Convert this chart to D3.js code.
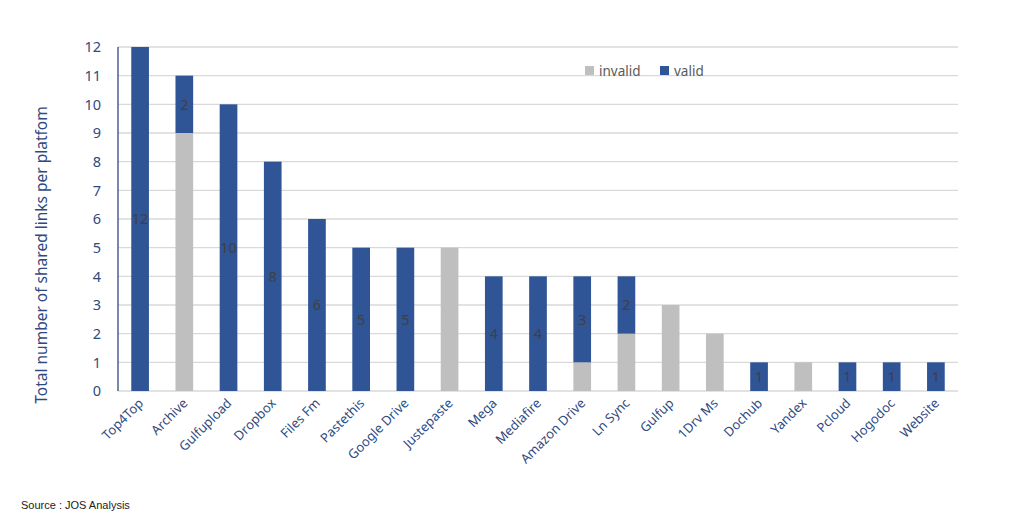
<!DOCTYPE html>
<html><head><meta charset="utf-8">
<script src="https://cdn.jsdelivr.net/npm/d3@7"></script>
<style>body{margin:0;background:#fff;}svg{display:block;}</style>
</head><body>
<svg id="c" width="1024" height="520"></svg>
<script>
const categories = ["Top4Top","Archive","Gulfupload","Dropbox","Files Fm","Pastethis","Google Drive","Justepaste","Mega","Mediafire","Amazon Drive","Ln Sync","Gulfup","1Drv Ms","Dochub","Yandex","Pcloud","Hogodoc","Website"];
const invalid = [0,9,0,0,0,0,0,5,0,0,1,2,3,2,0,1,0,0,0];
const valid   = [12,2,10,8,6,5,5,0,4,4,3,2,0,0,1,0,1,1,1];
const yTicks = [0,1,2,3,4,5,6,7,8,9,10,11,12];
const seriesNames = ["invalid","valid"];

const svg = d3.select("#c");
const font = "'Noto Sans', 'Open Sans', sans-serif";
const axisColor = "#2F4A7F";
const colors = {invalid:"#BFBFBF", valid:"#2F5597"};

const x = d3.scaleBand().domain(categories).range([118, 958]).paddingInner(0.6).paddingOuter(0.3);
const y = d3.scaleLinear().domain([0,12]).range([391, 47]);

// gridlines
svg.append("g").selectAll("line").data(yTicks).join("line")
  .attr("x1", 118).attr("x2", 958)
  .attr("y1", d=>y(d)).attr("y2", d=>y(d))
  .attr("stroke", "#D9D9D9").attr("stroke-width", 1.3);

const data = categories.map((c,i)=>({c, invalid:invalid[i], valid:valid[i]}));
const stack = d3.stack().keys(seriesNames)(data);

svg.append("g").selectAll("g").data(stack).join("g")
  .attr("fill", d=>colors[d.key])
  .selectAll("rect").data(d=>d).join("rect")
  .attr("x", d=>x(d.data.c)).attr("width", x.bandwidth())
  .attr("y", d=>y(d[1])).attr("height", d=>y(d[0])-y(d[1]));

// data labels on valid
const vs = stack[1];
svg.append("g").selectAll("text").data(vs.filter(d=>d.data.valid>0)).join("text")
  .attr("x", d=>x(d.data.c)+x.bandwidth()/2)
  .attr("y", d=>(y(d[0])+y(d[1]))/2)
  .attr("dy", "0.36em")
  .attr("text-anchor","middle")
  .attr("font-family", font).attr("font-size", 14.5)
  .attr("fill","#404040")
  .text(d=>d.data.valid);

// y axis line
svg.append("line").attr("x1",118).attr("x2",118).attr("y1",y(12)).attr("y2",y(0))
  .attr("stroke", axisColor).attr("stroke-width",1.3);

// y tick labels
svg.append("g").selectAll("text").data(yTicks).join("text")
  .attr("x", 101).attr("y", d=>y(d)).attr("dy","0.36em")
  .attr("text-anchor","end")
  .attr("font-family", font).attr("font-size", 14.5)
  .attr("fill", axisColor).text(d=>d);

// x labels
svg.append("g").selectAll("text").data(categories).join("text")
  .attr("transform", d=>`translate(${x(d)+x.bandwidth()/2+4},${404}) rotate(-45)`)
  .attr("text-anchor","end")
  .attr("font-family", font).attr("font-size", 13)
  .attr("fill", axisColor).text(d=>d);

// y title
svg.append("text")
  .attr("transform", `translate(47,255) rotate(-90)`)
  .attr("text-anchor","middle")
  .attr("font-family", font).attr("font-size", 15.5)
  .attr("fill", axisColor)
  .text("Total number of shared links per platfom");

// legend
const lg = svg.append("g").attr("font-family", font).attr("font-size", 13.5).attr("fill","#595959");
const legendX = [585, 660];
seriesNames.forEach((k,i)=>{
  lg.append("rect").attr("x", legendX[i]).attr("y", 66).attr("width", 9).attr("height", 9).attr("fill", colors[k]);
  lg.append("text").attr("x", legendX[i]+14).attr("y", 71).attr("dy","0.36em").text(k);
});

// source
svg.append("text").attr("x", 21).attr("y", 509)
  .attr("font-family","'Liberation Sans', Arial, sans-serif").attr("font-size", 11)
  .attr("fill","#222").text("Source : JOS Analysis");
</script>
</body></html>
